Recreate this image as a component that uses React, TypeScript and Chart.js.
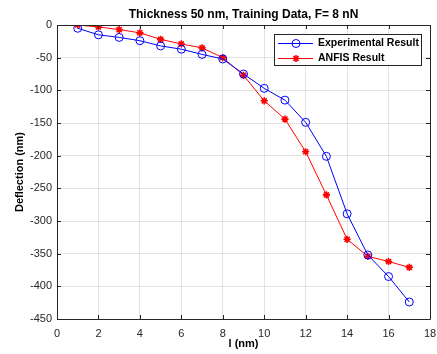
import React, { useEffect, useRef } from "react";
import { Chart, registerables } from "chart.js";

Chart.register(...registerables);

const xValues = [1, 2, 3, 4, 5, 6, 7, 8, 9, 10, 11, 12, 13, 14, 15, 16, 17];
const experimental = [-5, -15, -19, -24, -32, -37, -45, -52, -75, -97, -115, -149, -201, -289, -352, -385, -424];
const anfis = [0, -3, -7, -12, -22, -29, -35, -50, -77, -116, -144, -194, -260, -328, -354, -362, -371];
const xTicks = [0, 2, 4, 6, 8, 10, 12, 14, 16, 18];
const yTicks = [0, -50, -100, -150, -200, -250, -300, -350, -400, -450];

const titleText = "Thickness 50 nm, Training Data, F= 8 nN";
const seriesNames = ["Experimental Result", "ANFIS Result"];
const FONT = "'Liberation Sans', Arial, sans-serif";
const AX = "#262626";

function drawMarker(ctx: CanvasRenderingContext2D, style: string, x: number, y: number, color: string) {
  ctx.save();
  ctx.strokeStyle = color;
  ctx.lineWidth = 1;
  ctx.beginPath();
  if (style === "circle") {
    ctx.arc(x, y, 4, 0, Math.PI * 2);
  } else {
    const r = 3.5;
    for (let k = 0; k < 4; k++) {
      const ang = (k * Math.PI) / 4;
      ctx.moveTo(x - r * Math.cos(ang), y - r * Math.sin(ang));
      ctx.lineTo(x + r * Math.cos(ang), y + r * Math.sin(ang));
    }
    ctx.lineWidth = 1.6;
  }
  ctx.stroke();
  ctx.restore();
}

const boxPlugin = {
  id: "boxTicks",
  afterDatasetsDraw(chart: any) {
    const { ctx, chartArea: a, scales } = chart;
    ctx.save();
    ctx.strokeStyle = AX;
    ctx.lineWidth = 1;
    ctx.beginPath();
    ctx.rect(Math.round(a.left) + 0.5, Math.round(a.top) + 0.5, Math.round(a.right - a.left), Math.round(a.bottom - a.top));
    ctx.stroke();
    const L = 4;
    ctx.beginPath();
    xTicks.forEach((v) => {
      const x = Math.round(scales.x.getPixelForValue(v)) + 0.5;
      ctx.moveTo(x, a.bottom);
      ctx.lineTo(x, a.bottom - L);
      ctx.moveTo(x, a.top);
      ctx.lineTo(x, a.top + L);
    });
    yTicks.forEach((v) => {
      const y = Math.round(scales.y.getPixelForValue(v)) + 0.5;
      ctx.moveTo(a.left, y);
      ctx.lineTo(a.left + L, y);
      ctx.moveTo(a.right, y);
      ctx.lineTo(a.right - L, y);
    });
    ctx.stroke();
    ctx.restore();
  },
  afterDraw(chart: any) {
    const { ctx, chartArea: a } = chart;
    ctx.save();
    ctx.fillStyle = "#000000";
    ctx.font = `bold 12px ${FONT}`;
    ctx.textAlign = "center";
    ctx.textBaseline = "middle";
    ctx.fillText(titleText, (a.left + a.right) / 2, a.top - 10);

    const w = 147;
    const h = 31;
    const left = Math.round(a.right - 9 - w);
    const top = Math.round(a.top + 9);
    ctx.fillStyle = "#ffffff";
    ctx.fillRect(left, top, w, h);
    ctx.strokeStyle = AX;
    ctx.lineWidth = 1;
    ctx.strokeRect(left + 0.5, top + 0.5, w, h);
    const rows = [
      { color: "#0000ff", style: "circle", name: seriesNames[0] },
      { color: "#ff0000", style: "star", name: seriesNames[1] },
    ];
    rows.forEach((r, i) => {
      const y = Math.round(top + 9 + i * 14.5) + 0.5;
      ctx.strokeStyle = r.color;
      ctx.lineWidth = 1;
      ctx.beginPath();
      ctx.moveTo(left + 4, y);
      ctx.lineTo(left + 39, y);
      ctx.stroke();
      drawMarker(ctx, r.style, left + 22, y, r.color);
      ctx.fillStyle = "#000000";
      ctx.font = `bold 10.5px ${FONT}`;
      ctx.textBaseline = "middle";
      ctx.textAlign = "left";
      ctx.fillText(r.name, left + 44, y);
    });
    ctx.restore();
  },
};

export default function App() {
  const ref = useRef<HTMLCanvasElement | null>(null);
  useEffect(() => {
    document.body.style.margin = "0";
    const chart = new Chart(ref.current as HTMLCanvasElement, {
      type: "line",
      data: {
        datasets: [
          {
            label: seriesNames[0],
            data: xValues.map((x, i) => ({ x, y: experimental[i] })),
            borderColor: "#0000ff",
            backgroundColor: "rgba(0,0,0,0)",
            borderWidth: 1,
            pointStyle: "circle",
            pointRadius: 4,
            pointBorderColor: "#0000ff",
            pointBackgroundColor: "rgba(0,0,0,0)",
            pointBorderWidth: 1,
          },
          {
            label: seriesNames[1],
            data: xValues.map((x, i) => ({ x, y: anfis[i] })),
            borderColor: "#ff0000",
            backgroundColor: "#ff0000",
            borderWidth: 1,
            pointStyle: "star",
            pointRadius: 3.6,
            pointBorderColor: "#ff0000",
            pointBackgroundColor: "#ff0000",
            pointBorderWidth: 1.6,
          },
        ],
      },
      options: {
        animation: false,
        responsive: false,
        maintainAspectRatio: false,
        layout: { padding: { top: 25, right: 7, left: 0, bottom: 0 } },
        plugins: {
          legend: { display: false },
          tooltip: { enabled: false },
          title: { display: false },
        },
        scales: {
          x: {
            type: "linear",
            min: 0,
            max: 18,
            afterBuildTicks: (s: any) => {
              s.ticks = xTicks.map((v) => ({ value: v }));
            },
            afterFit: (s: any) => {
              s.height = 35;
              s.paddingRight = 0;
              s.paddingLeft = 0;
            },
            ticks: {
              color: AX,
              font: { family: FONT, size: 11 },
              padding: 8,
              maxRotation: 0,
            },
            grid: { color: "rgba(38,38,38,0.13)", tickLength: 0, drawTicks: false },
            border: { display: false },
            title: {
              display: true,
              text: "l (nm)",
              color: "#000000",
              font: { family: FONT, size: 11, weight: "bold" },
              padding: { top: 2, bottom: 3 },
            },
          },
          y: {
            type: "linear",
            min: -450,
            max: 0,
            afterBuildTicks: (s: any) => {
              s.ticks = yTicks.map((v) => ({ value: v }));
            },
            afterFit: (s: any) => {
              s.width = 57;
              s.paddingTop = 0;
              s.paddingBottom = 0;
            },
            ticks: {
              color: AX,
              font: { family: FONT, size: 11 },
              padding: 5,
            },
            grid: { color: "rgba(38,38,38,0.13)", tickLength: 0, drawTicks: false },
            border: { display: false },
            title: {
              display: true,
              text: "Deflection (nm)",
              color: "#000000",
              font: { family: FONT, size: 11, weight: "bold" },
              padding: { top: 13, bottom: 0 },
            },
          },
        },
      },
      plugins: [boxPlugin],
    } as any);
    return () => chart.destroy();
  }, []);
  return (
    <div style={{ width: 437, height: 354, background: "#ffffff" }}>
      <canvas ref={ref} width={437} height={354} style={{ display: "block" }} />
    </div>
  );
}
